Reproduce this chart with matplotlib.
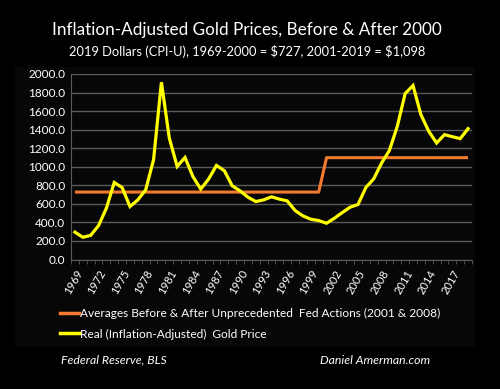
import matplotlib
matplotlib.use("Agg")
import matplotlib.pyplot as plt
from matplotlib.patches import Rectangle
from matplotlib.lines import Line2D

# data (2019 dollars)
years = list(range(1969, 2020))
gold_real = [295, 240, 260, 365, 553, 830, 776, 571, 643, 751,
             1076, 1911, 1310, 1003, 1100, 895, 759, 867, 1014, 957,
             795, 740, 672, 625, 643, 676, 651, 632, 528, 470,
             434, 420, 391, 445, 506, 564, 593, 776, 870, 1040,
             1177, 1436, 1789, 1876, 1562, 1382, 1256, 1346, 1324, 1303,
             1411]
avg_before = 727   # 1969-2000
avg_after = 1098   # 2001-2019
averages = [avg_before if y <= 2000 else avg_after for y in years]

label_years = list(range(1969, 2018, 3))
y_ticks = list(range(0, 2001, 200))

yellow = '#FFFF00'
orange = '#F47A30'
grid_gray = '#5a5a5a'
font = 'Lato'

W, H = 500, 389
fig = plt.figure(figsize=(W / 100, H / 100), dpi=100, facecolor='black')

# faint chart-area box
fig.patches.append(Rectangle((15 / W, 1 - 347 / H), 460 / W, 280 / H,
                             transform=fig.transFigure, facecolor='#070707',
                             edgecolor='none', zorder=-5))

ax = fig.add_axes([71 / W, 1 - 259.5 / H, 401 / W, 185.5 / H])
ax.set_facecolor('none')
ax.set_zorder(2)

ax.plot(years, averages, color=orange, lw=2.2, solid_capstyle='butt', zorder=3)
ax.plot(years, gold_real, color=yellow, lw=2.3, solid_joinstyle='miter', zorder=4)

ax.set_xlim(1968.7, 2019.4)
ax.set_ylim(0, 2000)
ax.set_yticks(y_ticks)
ax.set_yticklabels([f'{v:.1f}' for v in y_ticks], color='white',
                   fontsize=8.5, family=font)
ax.yaxis.grid(True, color=grid_gray, lw=1)
ax.set_axisbelow(True)
ax.tick_params(axis='y', length=0, pad=4)

ax.set_xticks([y - 0.5 for y in years] + [2019.5], minor=True)
ax.set_xticks(label_years)
ax.set_xticklabels([str(y) for y in label_years], rotation=60, ha='right',
                   rotation_mode='anchor', color='white', fontsize=8,
                   family=font)
ax.tick_params(axis='x', which='major', length=0, pad=6)
ax.tick_params(axis='x', which='minor', length=3, color=grid_gray, direction='out')

for s in ['top', 'right']:
    ax.spines[s].set_visible(False)
ax.spines['left'].set_color(grid_gray)
ax.spines['bottom'].set_color(grid_gray)

fig.text(247 / W, 1 - 30 / H, 'Inflation-Adjusted Gold Prices, Before & After 2000',
         color='white', fontsize=12.3, family=font, ha='center', va='center')
fig.text(247 / W, 1 - 52 / H,
         r'2019 Dollars (CPI-U), 1969-2000 = \$727, 2001-2019 = \$1,098',
         color='white', fontsize=9.3, family=font, ha='center', va='center')

handles = [Line2D([0], [0], color=orange, lw=2.5),
           Line2D([0], [0], color=yellow, lw=2.5)]
labels = ['Averages Before & After Unprecedented  Fed Actions (2001 & 2008)',
          'Real (Inflation-Adjusted)  Gold Price']
fig.legend(handles, labels, loc='upper left',
           bbox_to_anchor=(54 / W, 1 - 302 / H), frameon=False,
           handlelength=1.6, handletextpad=0.1, labelspacing=0.8,
           borderpad=0, prop={'family': font, 'size': 8.6}, labelcolor='white')

fig.text(61 / W, 1 - 360 / H, 'Federal Reserve, BLS', color='white',
         fontsize=8.8, style='italic', family=font, va='center')
fig.text(320 / W, 1 - 360 / H, 'Daniel Amerman.com', color='white',
         fontsize=8.8, style='italic', family=font, va='center')

fig.savefig('out.png', dpi=100, facecolor='black')
